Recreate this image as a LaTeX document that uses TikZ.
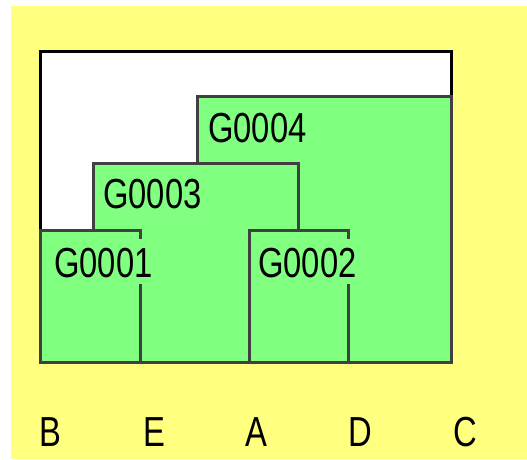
\documentclass[tikz,border=0pt]{standalone}
\usepackage{fontspec}
\setmainfont{Liberation Sans}
\definecolor{bgyellow}{HTML}{FFFF80}
\definecolor{boxgreen}{HTML}{80FF80}
\definecolor{edgegray}{HTML}{404040}
\newcommand{\narrowtxt}[1]{\scalebox{0.78}[1]{#1}}
\begin{document}
\begin{tikzpicture}[x=1pt,y=-1pt,
  group/.style={draw=edgegray, line width=3pt, fill=boxgreen},
  glabel/.style={fill=boxgreen, anchor=base west, inner xsep=1pt, inner ysep=0pt,
    text height=38pt, text depth=7pt, font=\fontsize{42}{42}\selectfont},
  leaf/.style={anchor=base, inner sep=0pt, font=\fontsize{42}{42}\selectfont}]
\useasboundingbox (0,0) rectangle (527,459);
\fill[white] (0,0) rectangle (527,459);
\fill[bgyellow] (11,6) rectangle (527,459);
\draw[black, line width=3pt, fill=white] (40.5,51.5) rectangle (451,362);
\draw[group] (197.5,96.5) rectangle (451,362);
\node[glabel] (l4) at (207,142) {\narrowtxt{G0004}};
\draw[group] (93.5,163.5) rectangle (298,362);
\node[glabel] (l3) at (102,208) {\narrowtxt{G0003}};
\draw[group] (40.5,230.5) rectangle (140,362);
\node[glabel] (l1) at (53,277) {\narrowtxt{G0001}};
\draw[group] (249,230.5) rectangle (348,362);
\node[glabel] (l2) at (257,277) {\narrowtxt{G0002}};
\node[leaf] (B) at (50,446) {\narrowtxt{B}};
\node[leaf] (E) at (154,446) {\narrowtxt{E}};
\node[leaf] (A) at (256,446) {\narrowtxt{A}};
\node[leaf] (D) at (360,446) {\narrowtxt{D}};
\node[leaf] (C) at (465,446) {\narrowtxt{C}};
\end{tikzpicture}
\end{document}
